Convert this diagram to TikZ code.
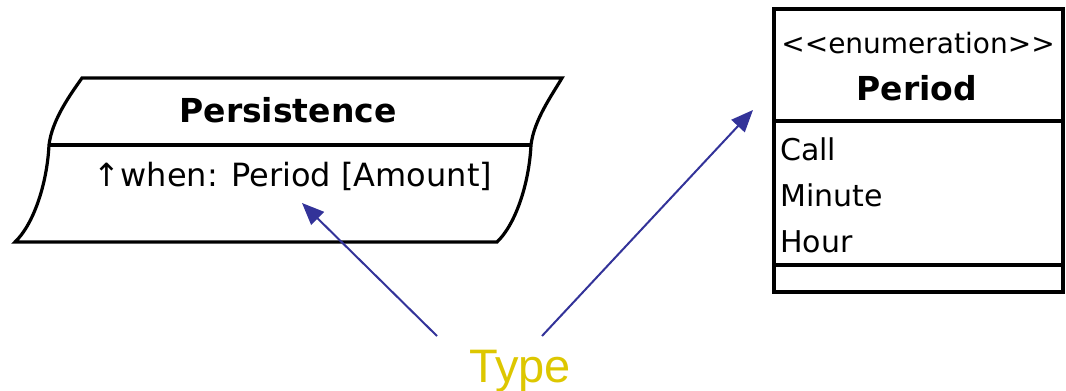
\documentclass[tikz,border=0pt]{standalone}
\usepackage{fontspec}
\setmainfont{DejaVu Sans}
\newfontfamily\typefont{Liberation Sans}
\usetikzlibrary{arrows.meta}
\definecolor{arrowblue}{RGB}{51,51,153}
\definecolor{typeyellow}{RGB}{221,199,0}
\tikzset{
  umlline/.style={line width=3.2pt, line join=miter},
  boldtxt/.style={inner sep=0pt, font=\fontsize{33}{36}\selectfont\bfseries},
  regtxt/.style={inner sep=0pt, font=\fontsize{30}{34}\selectfont},
  whentxt/.style={inner sep=0pt, font=\fontsize{32}{34}\selectfont},
  enumtxt/.style={inner sep=0pt, font=\fontsize{28}{30}\selectfont},
  pointer/.style={arrowblue, line width=2pt, -{Triangle[length=22pt,width=18pt]}},
  typelabel/.style={inner sep=0pt, text=typeyellow, font=\typefont\fontsize{47}{52}\selectfont}
}
\begin{document}
\begin{tikzpicture}[x=1pt,y=-1pt]
\useasboundingbox (0,0) rectangle (1066,391);
% Persistence shape
\draw[umlline] (82,78) -- (562,78)
  .. controls (552,95) and (534,120) .. (531,145)
  .. controls (529,185) and (515,225) .. (497,242)
  -- (15,242)
  .. controls (33,225) and (47,185) .. (49,145)
  .. controls (52,120) and (70,95) .. (82,78) -- cycle;
\draw[umlline] (49,145) -- (531,145);
\node[boldtxt] (pers) at (288,110) {Persistence};
\node[whentxt, anchor=base] (when) at (293,186) {↑when: Period [Amount]};
% Period enumeration box
\draw[umlline] (774,9) rectangle (1063,292);
\draw[umlline] (774,121) -- (1063,121);
\draw[umlline] (774,265) -- (1063,265);
\node[enumtxt] (stereo) at (918,43) {{<}{<}enumeration{>}{>}};
\node[boldtxt] (period) at (917,88) {Period};
\node[regtxt, anchor=base west] (call) at (780,160) {Call};
\node[regtxt, anchor=base west] (minute) at (780,206) {Minute};
\node[regtxt, anchor=base west] (hour) at (780,252) {Hour};
% Type label and pointers
\node[typelabel, anchor=base] (type) at (520,382) {Type};
\coordinate (t1) at (437,336);
\coordinate (t2) at (542,336);
\coordinate (a1) at (302,203);
\coordinate (a2) at (753,110);
\draw[pointer] (t1) -- (a1);
\draw[pointer] (t2) -- (a2);
\end{tikzpicture}
\end{document}
